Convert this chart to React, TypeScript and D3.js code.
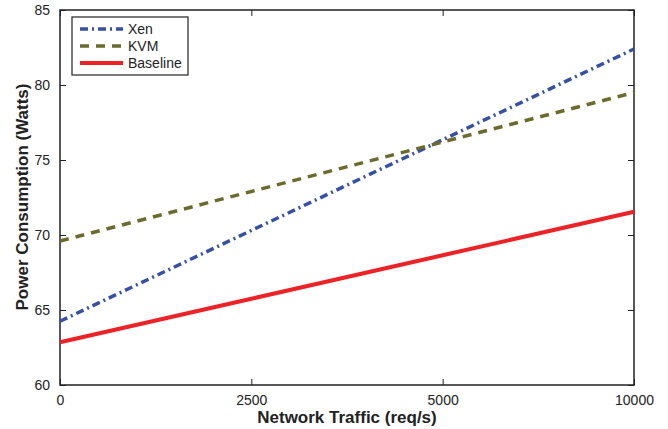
import React, { useEffect, useRef } from 'react';
import * as d3 from 'd3';

// tick labels on the x axis (points are spaced evenly, as in the original figure)
const trafficLabels = ['0', '2500', '5000', '10000'];
const xenPower = [64.25, 70.3, 76.35, 82.4];
const kvmPower = [69.6, 72.9, 76.2, 79.5];
const baselinePower = [62.85, 65.75, 68.65, 71.55];
const yTicks = [60, 65, 70, 75, 80, 85];

const series = [
  { name: 'Xen', values: xenPower, color: '#3551a6', width: 3.5, dash: '8,4,2,4' },
  { name: 'KVM', values: kvmPower, color: '#6d6b2b', width: 3.5, dash: '9,7' },
  { name: 'Baseline', values: baselinePower, color: '#ec2227', width: 4, dash: null },
];

const App = () => {
  const svgRef = useRef<SVGSVGElement>(null);

  useEffect(() => {
    const width = 668;
    const height = 429;
    const margin = { top: 10, right: 34, bottom: 44, left: 60 };
    const font = 'Liberation Sans, Arial, Helvetica, sans-serif';
    const ink = '#222';

    const svg = d3.select(svgRef.current)
      .attr('width', width)
      .attr('height', height);
    svg.selectAll('*').remove();

    const x = d3.scalePoint<string>()
      .domain(trafficLabels)
      .range([margin.left, width - margin.right]);

    const y = d3.scaleLinear()
      .domain([60, 85])
      .range([height - margin.bottom, margin.top]);

    // white plot box
    svg.append('rect')
      .attr('x', margin.left)
      .attr('y', margin.top)
      .attr('width', width - margin.left - margin.right)
      .attr('height', height - margin.top - margin.bottom)
      .attr('fill', '#fff')
      .attr('stroke', ink)
      .attr('stroke-width', 1.5);

    const line = d3.line<number>()
      .x((_, i) => x(trafficLabels[i]) as number)
      .y(d => y(d));

    series.forEach(s => {
      svg.append('path')
        .datum(s.values)
        .attr('fill', 'none')
        .attr('stroke', s.color)
        .attr('stroke-width', s.width)
        .attr('stroke-dasharray', s.dash)
        .attr('d', line);
    });

    // axes with inward ticks, mirrored on top and right
    const styleAxis = (g: any) => {
      g.select('.domain').remove();
      g.selectAll('line').attr('stroke', ink).attr('stroke-width', 1);
      g.selectAll('text')
        .attr('fill', ink)
        .style('font-family', font)
        .style('font-size', '14px');
    };

    svg.append('g')
      .attr('transform', `translate(0, ${height - margin.bottom})`)
      .call(d3.axisBottom(x).tickSizeInner(-6).tickPadding(10))
      .call(styleAxis);

    svg.append('g')
      .attr('transform', `translate(0, ${margin.top})`)
      .call(d3.axisTop(x).tickSizeInner(-6).tickFormat(() => ''))
      .call(styleAxis);

    svg.append('g')
      .attr('transform', `translate(${margin.left}, 0)`)
      .call(d3.axisLeft(y).tickValues(yTicks).tickSizeInner(-6).tickPadding(10))
      .call(styleAxis);

    svg.append('g')
      .attr('transform', `translate(${width - margin.right}, 0)`)
      .call(d3.axisRight(y).tickValues(yTicks).tickSizeInner(-6).tickFormat(() => ''))
      .call(styleAxis);

    // legend
    const legend = svg.append('g').attr('transform', 'translate(72, 17)');
    legend.append('rect')
      .attr('width', 116)
      .attr('height', 58)
      .attr('fill', '#fff')
      .attr('stroke', ink)
      .attr('stroke-width', 1.2);

    series.forEach((s, i) => {
      const ly = 12 + i * 17;
      legend.append('line')
        .attr('x1', 8)
        .attr('x2', 51)
        .attr('y1', ly)
        .attr('y2', ly)
        .attr('stroke', s.color)
        .attr('stroke-width', s.width)
        .attr('stroke-dasharray', s.dash);
      legend.append('text')
        .attr('x', 56)
        .attr('y', ly)
        .attr('dy', '0.35em')
        .attr('fill', ink)
        .style('font-family', font)
        .style('font-size', '14px')
        .text(s.name);
    });

    // axis titles
    svg.append('text')
      .attr('x', (margin.left + width - margin.right) / 2)
      .attr('y', 423)
      .attr('text-anchor', 'middle')
      .attr('fill', ink)
      .style('font-family', font)
      .style('font-weight', 'bold')
      .style('font-size', '17px')
      .text('Network Traffic (req/s)');

    svg.append('text')
      .attr('transform', 'rotate(-90)')
      .attr('x', -197)
      .attr('y', 28)
      .attr('text-anchor', 'middle')
      .attr('fill', ink)
      .style('font-family', font)
      .style('font-weight', 'bold')
      .style('font-size', '17px')
      .text('Power Consumption (Watts)');
  }, []);

  return <svg ref={svgRef} style={{ position: 'absolute', left: 0, top: 0 }}></svg>;
};

export default App;
